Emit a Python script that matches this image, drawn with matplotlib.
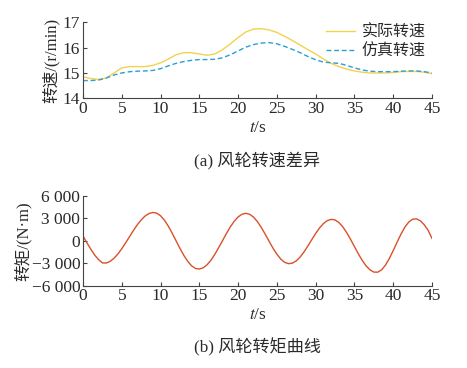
import matplotlib
matplotlib.use("Agg")
import matplotlib.pyplot as plt
import numpy as np

plt.rcParams['font.family'] = ['Liberation Serif', 'Noto Sans CJK SC']
plt.rcParams['mathtext.fontset'] = 'stix'
plt.rcParams['axes.unicode_minus'] = True

# time axis for speed (s)
t = list(range(0, 46))

# rotor speed, r/min
speed_actual = [14.85, 14.78, 14.75, 14.8, 15.0, 15.2, 15.25, 15.25, 15.25, 15.3,
                15.4, 15.55, 15.72, 15.8, 15.8, 15.75, 15.7, 15.75, 15.92, 16.15,
                16.4, 16.62, 16.73, 16.75, 16.7, 16.6, 16.45, 16.28, 16.1, 15.92,
                15.75, 15.55, 15.38, 15.25, 15.15, 15.08, 15.03, 15.0, 15.0, 15.0,
                15.02, 15.05, 15.06, 15.06, 15.03, 14.97]
speed_sim = [14.7, 14.7, 14.72, 14.8, 14.92, 15.0, 15.05, 15.07, 15.08, 15.1,
             15.17, 15.28, 15.38, 15.45, 15.5, 15.53, 15.53, 15.54, 15.6, 15.72,
             15.87, 16.02, 16.12, 16.18, 16.2, 16.15, 16.05, 15.93, 15.8, 15.65,
             15.52, 15.43, 15.4, 15.38, 15.3, 15.2, 15.12, 15.07, 15.05, 15.05,
             15.05, 15.07, 15.08, 15.08, 15.05, 15.0]

# time axis for torque, every 0.5 s
t_torque = [i * 0.5 for i in range(0, 91)]

# rotor torque, N*m
torque = [640, -250, -1100, -1900, -2500, -2950, -2964, -2741, -2330, -1756,
          -1055, -263, 567, 1386, 2148, 2804, 3314, 3654, 3797, 3713,
          3357, 2762, 1966, 1022, 10, -1006, -1942, -2742, -3340, -3697,
          -3775, -3605, -3198, -2583, -1800, -905, 47, 991, 1870, 2625,
          3200, 3557, 3680, 3549, 3164, 2558, 1773, 876, -67, -981,
          -1793, -2437, -2875, -3054, -2983, -2677, -2160, -1477, -678, 162,
          988, 1722, 2313, 2708, 2874, 2795, 2450, 1875, 1105, 200,
          -766, -1731, -2608, -3347, -3879, -4181, -4191, -3878, -3247, -2360,
          -1301, -181, 899, 1829, 2515, 2895, 2937, 2680, 2156, 1411,
          330]

legend_labels = ['实际转速', '仿真转速']
torque_ticks = [6000, 3000, 0, -3000, -6000]
torque_ticklabels = ['6 000', '3 000', '0', '\u22123 000', '\u22126 000']

txt = '#2a2a2a'
fig = plt.figure(figsize=(4.67, 3.68), dpi=100)
ax1 = fig.add_axes([83/467, 1-98.3/368, 349/467, 76/368])
ax2 = fig.add_axes([83/467, 1-285.7/368, 349/467, 89.7/368])

ax1.plot(t, speed_actual, color='#f2d24e', lw=1.0, label=legend_labels[0])
ax1.plot(t, speed_sim, color='#2b9fd4', lw=1.0, ls=(0, (3.5, 2)), label=legend_labels[1])
ax1.set_xlim(0, 45)
ax1.set_ylim(14, 17)
ax1.set_yticks([14, 15, 16, 17])
ax1.set_ylabel('转速/(r/min)', fontsize=12, color=txt, labelpad=2)
ax1.legend(loc='upper right', frameon=False, fontsize=11.5, handlelength=1.8,
           handletextpad=0.4, labelspacing=0.15, borderaxespad=0.0,
           bbox_to_anchor=(1.0, 1.05), labelcolor=txt)

ax2.plot(t_torque, torque, color='#d9502a', lw=1.0)
ax2.set_xlim(0, 45)
ax2.set_ylim(-6000, 6000)
ax2.set_yticks(torque_ticks)
ax2.set_yticklabels(torque_ticklabels)
ax2.set_ylabel('转矩/(N·m)', fontsize=12, color=txt, labelpad=0)

for ax in (ax1, ax2):
    ax.set_xticks(range(0, 46, 5))
    ax.spines['top'].set_visible(False)
    ax.spines['right'].set_visible(False)
    for s in ('left', 'bottom'):
        ax.spines[s].set_color('#444444')
        ax.spines[s].set_linewidth(0.8)
    ax.tick_params(direction='in', length=3, width=0.8, colors='#444444',
                   labelsize=12.5, labelcolor=txt, pad=2)
    ax.set_xlabel('$t$/s', fontsize=12.5, color=txt, labelpad=2)

fig.text(257.5/467, 1-160/368, '(a) 风轮转速差异', ha='center', va='center',
         fontsize=12.3, color=txt)
fig.text(257.5/467, 1-347/368, '(b) 风轮转矩曲线', ha='center', va='center',
         fontsize=12.3, color=txt)

fig.savefig('out.png', dpi=100)
